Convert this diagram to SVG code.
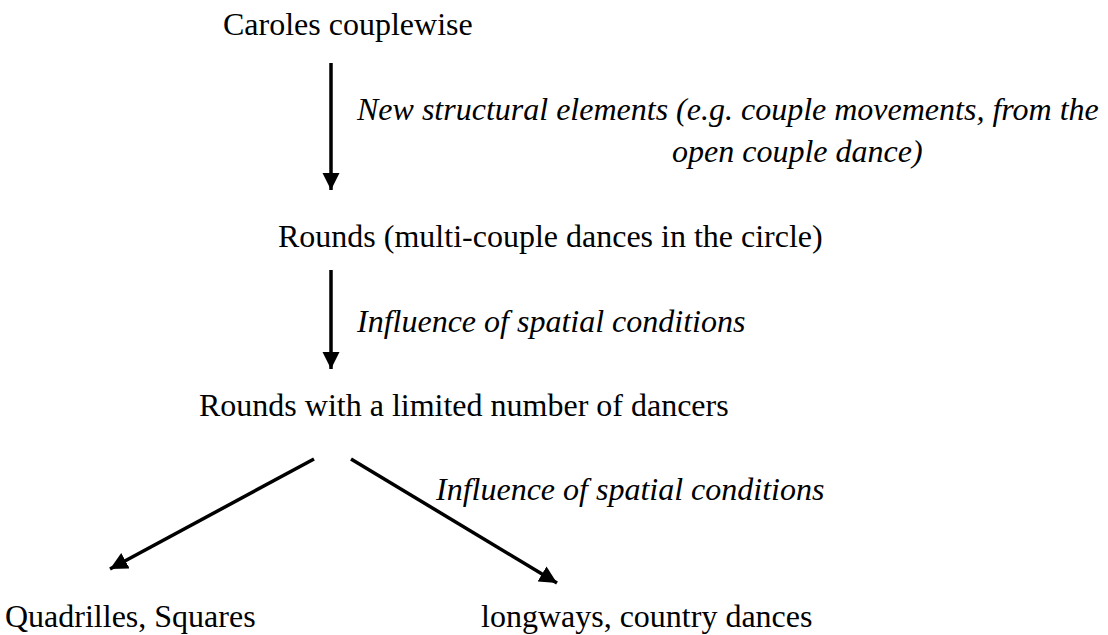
<svg xmlns="http://www.w3.org/2000/svg" width="1108" height="635" viewBox="0 0 1108 635">
  <style>
    .label { font-family: "Liberation Serif", "Times New Roman", serif; font-size: 32px; fill: #000; }
    .note { font-family: "Liberation Serif", "Times New Roman", serif; font-size: 32px; font-style: italic; fill: #000; }
    .edge { stroke: #000; stroke-width: 3.5; fill: none; marker-end: url(#head); }
  </style>
  <defs>
    <marker id="head" viewBox="0 0 10 10" refX="10" refY="5" markerWidth="5" markerHeight="5" markerUnits="strokeWidth" orient="auto">
      <path d="M0,0 L10,5 L0,10 Z" fill="#000"/>
    </marker>
  </defs>
  <rect width="1108" height="635" fill="#fff"/>

  <g id="caroles"><text class="label" x="223" y="35">Caroles couplewise</text></g>
  <g id="rounds"><text class="label" x="278" y="247">Rounds (multi-couple dances in the circle)</text></g>
  <g id="rounds-limited"><text class="label" x="199" y="416">Rounds with a limited number of dancers</text></g>
  <g id="quadrilles"><text class="label" x="5" y="627">Quadrilles, Squares</text></g>
  <g id="longways"><text class="label" x="481" y="627">longways, country dances</text></g>

  <g id="connectors">
    <line class="edge" x1="331" y1="63" x2="331" y2="190"/>
    <line class="edge" x1="331" y1="270" x2="331" y2="369"/>
    <line class="edge" x1="314" y1="459" x2="110" y2="569"/>
    <line class="edge" x1="351" y1="459" x2="557" y2="583"/>
    <text class="note" x="357" y="120">New structural elements (e.g. couple movements, from the</text>
    <text class="note" x="672" y="162">open couple dance)</text>
    <text class="note" x="357" y="332">Influence of spatial conditions</text>
    <text class="note" x="436" y="500">Influence of spatial conditions</text>
  </g>
</svg>
